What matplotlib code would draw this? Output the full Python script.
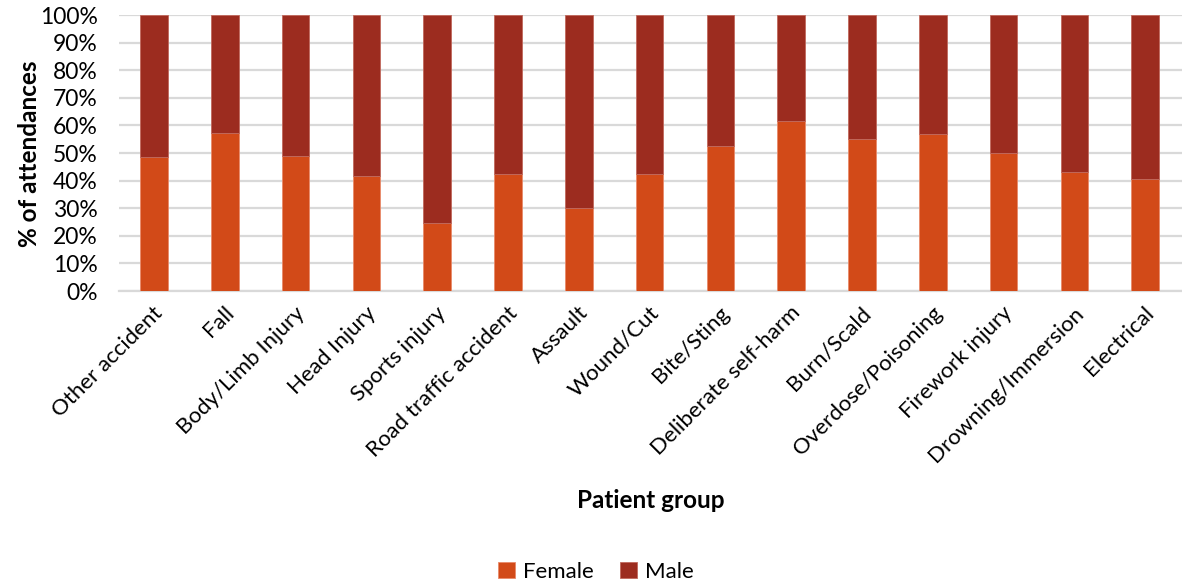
import matplotlib
matplotlib.use("Agg")
import matplotlib.pyplot as plt
import matplotlib.transforms as mtransforms
import numpy as np

plt.rcParams['font.family'] = ['Lato', 'DejaVu Sans']

categories = ["Other accident", "Fall", "Body/Limb Injury", "Head Injury",
              "Sports injury", "Road traffic accident", "Assault", "Wound/Cut",
              "Bite/Sting", "Deliberate self-harm", "Burn/Scald",
              "Overdose/Poisoning", "Firework injury", "Drowning/Immersion",
              "Electrical"]
female_pct = [48.7, 57.1, 49.0, 41.7, 24.5, 42.5, 30.0, 42.5, 52.5, 61.6,
              55.1, 56.8, 49.9, 43.1, 40.5]
male_pct = [100 - f for f in female_pct]
y_ticks = list(range(0, 101, 10))

female_color = "#D24A18"
male_color = "#9C2C1F"

fig = plt.figure(figsize=(11.82, 5.85), dpi=100)
ax = fig.add_axes([118.5 / 1182, 1 - 291 / 585, (1182 - 118.5) / 1182, (291 - 15) / 585])

x = np.arange(len(categories))
width = 0.39
ax.bar(x, female_pct, width, color=female_color, edgecolor="#E98A6A",
       linewidth=0.6, label="Female", zorder=3)
ax.bar(x, male_pct, width, bottom=female_pct, color=male_color,
       edgecolor="#C0685C", linewidth=0.6, label="Male", zorder=3)

ax.set_xlim(-0.5, len(categories) - 0.5 + 0.02)
ax.set_ylim(0, 100)
ax.set_yticks(y_ticks)
ax.set_yticklabels([f"{t}%" for t in y_ticks], fontsize=16.5)
ax.yaxis.grid(True, color="#D9D9D9", linewidth=1.6, zorder=0)
ax.set_axisbelow(True)
for s in ["top", "right", "left"]:
    ax.spines[s].set_visible(False)
ax.spines["bottom"].set_color("#D9D9D9")
ax.spines["bottom"].set_linewidth(1.6)
ax.tick_params(axis="both", length=0, colors="black")
ax.tick_params(axis="y", pad=15)

ax.set_xticks(x)
ax.set_xticklabels(categories, fontsize=16, rotation=45, ha="right",
                   va="center", rotation_mode="anchor")
offset = mtransforms.ScaledTranslation(6 / 100, -14 / 100, fig.dpi_scale_trans)
for lbl in ax.get_xticklabels():
    lbl.set_transform(lbl.get_transform() + offset)

fig.text(30 / 1182, 1 - 154 / 585, "% of attendances", rotation=90,
         ha="center", va="center", fontsize=17.5, fontweight="bold")
fig.text(651 / 1182, 1 - 501 / 585, "Patient group", ha="center",
         va="center", fontsize=17.5, fontweight="bold")

leg = fig.legend(loc="center", bbox_to_anchor=(596 / 1182, 1 - 572 / 585),
                 ncol=2, frameon=False, fontsize=16, handlelength=0.75,
                 handleheight=0.75, handletextpad=0.35, columnspacing=1.2)

fig.savefig("out.png", dpi=100)
